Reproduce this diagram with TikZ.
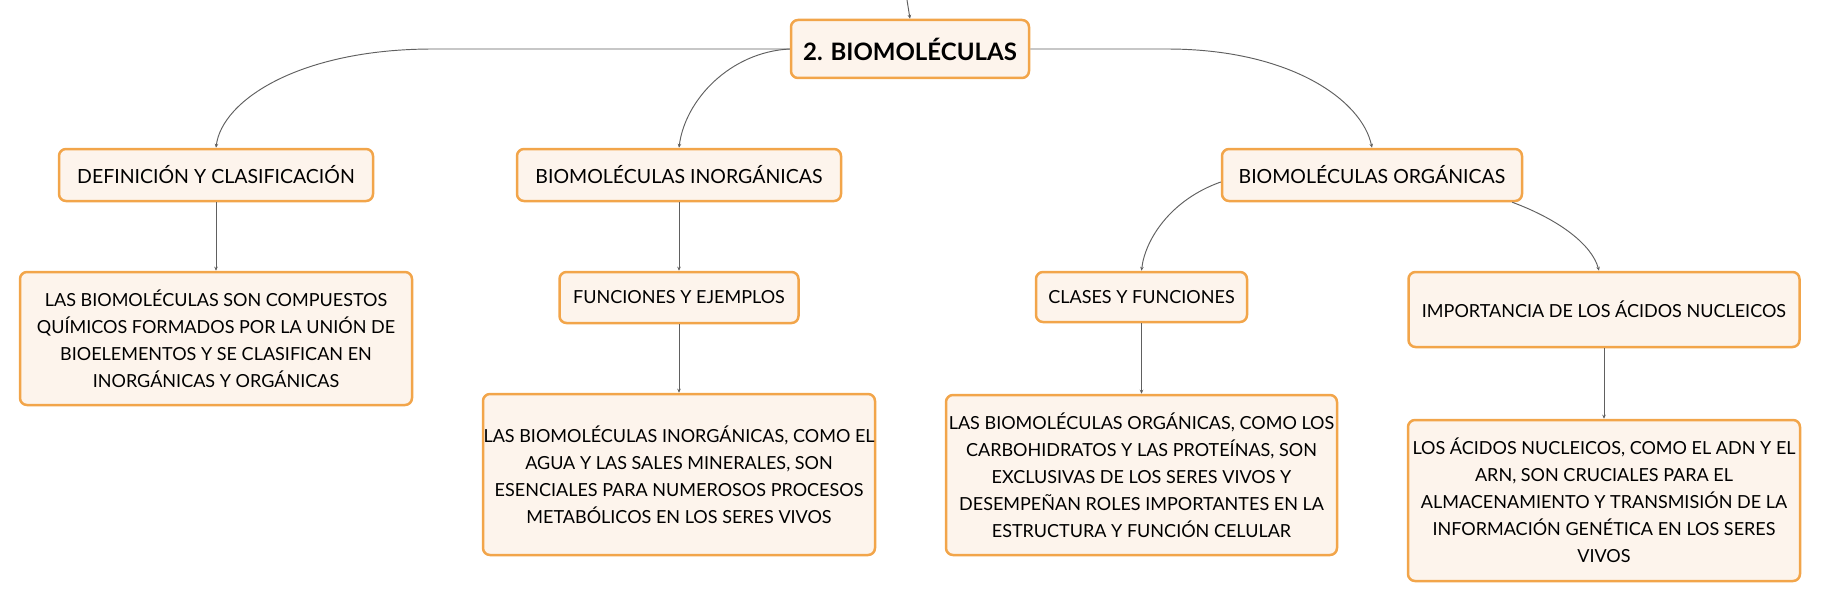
\documentclass[tikz,border=0pt]{standalone}
\usepackage{fontspec}
\setmainfont{Lato}
\usetikzlibrary{arrows.meta}
\definecolor{boxborder}{HTML}{F2A54A}
\definecolor{boxfill}{HTML}{FDF4EC}
\definecolor{linkcol}{HTML}{606060}
\begin{document}
\begin{tikzpicture}[x=1pt,y=-1pt,
  box/.style={draw=boxborder, fill=boxfill, line width=2.5pt, rounded corners=7pt,
    align=center, inner sep=0pt, text=black, font=\fontsize{18}{27}\selectfont},
  mainbox/.style={box, font=\fontsize{19.5}{27}\selectfont},
  titlebox/.style={box, font=\fontsize{24}{28}\selectfont\bfseries},
  conn/.style={draw=linkcol, line width=0.95pt, -{Stealth[length=4pt,width=3.5pt]}}]
\useasboundingbox (0,0) rectangle (1821,602);
% nodes
\node[titlebox, minimum width=238pt, minimum height=58pt] (top) at (910,49) {2. BIOMOLÉCULAS};
\node[mainbox, minimum width=314pt, minimum height=52pt] (def) at (216,175) {DEFINICIÓN Y CLASIFICACIÓN};
\node[box, minimum width=392pt, minimum height=133pt] (deflow) at (216,338.5) {LAS BIOMOLÉCULAS SON COMPUESTOS\\QUÍMICOS FORMADOS POR LA UNIÓN DE\\BIOELEMENTOS Y SE CLASIFICAN EN\\INORGÁNICAS Y ORGÁNICAS};
\node[mainbox, minimum width=324pt, minimum height=52pt] (inorg) at (679,175) {BIOMOLÉCULAS INORGÁNICAS};
\node[box, minimum width=239pt, minimum height=51pt] (func) at (679,297.5) {FUNCIONES Y EJEMPLOS};
\node[box, minimum width=392pt, minimum height=161pt] (inorglow) at (679,474.5) {LAS BIOMOLÉCULAS INORGÁNICAS, COMO EL\\AGUA Y LAS SALES MINERALES, SON\\ESENCIALES PARA NUMEROSOS PROCESOS\\METABÓLICOS EN LOS SERES VIVOS};
\node[mainbox, minimum width=300pt, minimum height=52pt] (org) at (1372,175) {BIOMOLÉCULAS ORGÁNICAS};
\node[box, minimum width=211pt, minimum height=50pt] (clases) at (1141.5,297) {CLASES Y FUNCIONES};
\node[box, minimum width=391pt, minimum height=160pt] (orglow) at (1141.5,475) {LAS BIOMOLÉCULAS ORGÁNICAS, COMO LOS\\CARBOHIDRATOS Y LAS PROTEÍNAS, SON\\EXCLUSIVAS DE LOS SERES VIVOS Y\\DESEMPEÑAN ROLES IMPORTANTES EN LA\\ESTRUCTURA Y FUNCIÓN CELULAR};
\node[box, minimum width=391pt, minimum height=75pt] (imp) at (1604,309.5) {IMPORTANCIA DE LOS ÁCIDOS NUCLEICOS};
\node[box, minimum width=392pt, minimum height=161pt] (acid) at (1604,500.5) {LOS ÁCIDOS NUCLEICOS, COMO EL ADN Y EL\\ARN, SON CRUCIALES PARA EL\\ALMACENAMIENTO Y TRANSMISIÓN DE LA\\INFORMACIÓN GENÉTICA EN LOS SERES\\VIVOS};
% connectors
\coordinate (in) at (907,0);
\draw[conn] (in) -- (top.north);
\draw[conn] (top.west) -- (433,49) .. controls (300,49) and (222,100) .. (def.north);
\draw[conn] (top.west) .. controls (730,52) and (685,100) .. (inorg.north);
\draw[conn] (top.east) -- (1167,49) .. controls (1290,49) and (1362,100) .. (org.north);
\draw[conn] ([yshift=-7pt]org.west) .. controls (1170,200) and (1145,240) .. (clases.north);
\draw[conn] ([xshift=-11pt]org.south east) .. controls (1560,220) and (1592,245) .. ([xshift=-5pt]imp.north);
\draw[conn] (def) -- (deflow);
\draw[conn] (inorg) -- (func);
\draw[conn] (func) -- (inorglow);
\draw[conn] (clases) -- (orglow);
\draw[conn] (imp) -- (acid);
\end{tikzpicture}
\end{document}
